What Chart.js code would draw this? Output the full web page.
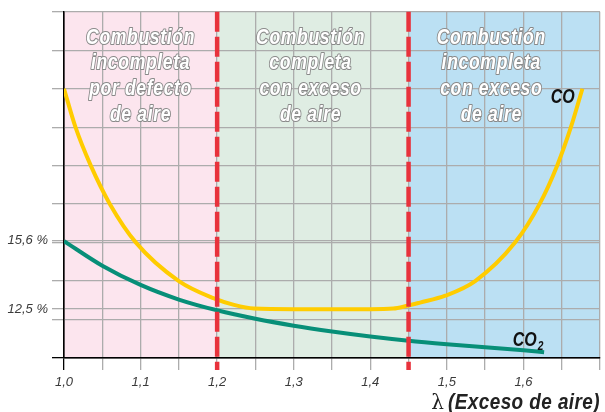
<!DOCTYPE html>
<html>
<head>
<meta charset="utf-8">
<script src="https://cdn.jsdelivr.net/npm/chart.js@4/dist/chart.umd.min.js"></script>
<style>
html, body { margin: 0; padding: 0; background: #fff; }
</style>
</head>
<body>
<canvas id="myChart" width="605" height="412"></canvas>
<script>
// curve values are in grid units (one unit = one horizontal grid step)
var coLambda = [1.0, 1.015, 1.035, 1.06, 1.094, 1.15, 1.196, 1.222, 1.248, 1.3, 1.35, 1.4, 1.43, 1.447, 1.465, 1.498, 1.537, 1.589, 1.621, 1.644, 1.662, 1.677]
var coValue  = [7.0, 6.0, 5.0, 4.0, 3.0, 2.0, 1.55, 1.38, 1.285, 1.27, 1.27, 1.27, 1.285, 1.35, 1.44, 1.62, 2.0, 3.0, 4.0, 5.0, 6.0, 7.0]

var co2Lambda = [1.0, 1.05, 1.1, 1.15, 1.2, 1.25, 1.3, 1.35, 1.4, 1.45, 1.5, 1.55, 1.6, 1.627]
var co2Value  = [3.04, 2.40, 1.90, 1.52, 1.24, 1.02, 0.84, 0.69, 0.56, 0.45, 0.36, 0.28, 0.20, 0.15]

var xTickValues = [1.0, 1.1, 1.2, 1.3, 1.4, 1.5, 1.6]
var xTickLabels = ['1,0', '1,1', '1,2', '1,3', '1,4', '1,5', '1,6']
var yTickValues = [3.06, 1.27]
var yTickLabels = ['15,6 %', '12,5 %']

var zoneEdges = [1.0, 1.2, 1.45, 1.7]
var zoneColors = ['#fce5ee', '#dfede3', '#bbe0f3']
var zoneTextX = [1.1, 1.322, 1.558]
var zoneTexts = [
    ['Combustión', 'incompleta', 'por defecto', 'de aire'],
    ['Combustión', 'completa', 'con exceso', 'de aire'],
    ['Combustión', 'incompleta', 'con exceso', 'de aire']
]
var limitLines = [1.2, 1.45]

var sans = '"Liberation Sans", Arial, sans-serif'

function toPoints(xs, ys) {
    return xs.map(function (x, i) { return { x: x, y: ys[i] } })
}

function findLabel(values, labels, v) {
    for (let i = 0; i < values.length; i++) {
        if (Math.abs(values[i] - v) < 1e-6) return labels[i]
    }
    return ''
}

function gridColor(ctx) {
    if (ctx.tick && ctx.tick.value === ctx.scale.min) return '#000'
    return '#acacac'
}

// condensed text: squeeze horizontally around the anchor
function narrowText(c, t, x, y, sx, align, outline) {
    c.save()
    c.translate(x, y)
    c.scale(sx, 1)
    c.textAlign = align
    if (outline) {
        c.lineJoin = 'round'
        c.strokeStyle = '#8a8a8a'
        c.lineWidth = 2.2
        c.strokeText(t, 0, 0)
    }
    c.fillText(t, 0, 0)
    var w = c.measureText(t).width * sx
    c.restore()
    return w
}

var zonesPlugin = {
    id: 'zones',
    beforeDraw: function (chart) {
        var c = chart.ctx, a = chart.chartArea, x = chart.scales.x
        c.save()
        for (let i = 0; i < zoneColors.length; i++) {
            var x0 = x.getPixelForValue(zoneEdges[i])
            var x1 = x.getPixelForValue(zoneEdges[i + 1])
            c.fillStyle = zoneColors[i]
            c.fillRect(x0, a.top, x1 - x0, a.bottom - a.top)
        }
        c.restore()
    },
    beforeDatasetsDraw: function (chart) {
        var c = chart.ctx, a = chart.chartArea, x = chart.scales.x
        c.save()
        c.font = 'italic bold 22px ' + sans
        c.letterSpacing = '0.8px'
        c.textBaseline = 'alphabetic'
        c.fillStyle = '#ffffff'
        zoneTexts.forEach(function (lines, i) {
            var cx = x.getPixelForValue(zoneTextX[i])
            lines.forEach(function (t, j) {
                narrowText(c, t, cx, a.top + 32 + j * 25.6, 0.8, 'center', true)
            })
        })
        c.restore()
    },
    afterDatasetsDraw: function (chart) {
        var c = chart.ctx, a = chart.chartArea, x = chart.scales.x, y = chart.scales.y
        c.save()
        c.strokeStyle = '#e8323c'
        c.lineWidth = 4.5
        c.setLineDash([20, 5])
        limitLines.forEach(function (v) {
            var px = x.getPixelForValue(v)
            c.beginPath()
            c.moveTo(px, a.top)
            c.lineTo(px, a.bottom + 12)
            c.stroke()
        })
        c.setLineDash([])

        // curve names
        c.fillStyle = '#111'
        c.font = 'italic bold 20px ' + sans
        narrowText(c, 'CO', x.getPixelForValue(1.667), y.getPixelForValue(6.62), 0.8, 'right', false)
        var lx = x.getPixelForValue(1.586), ly = y.getPixelForValue(0.3)
        var w = narrowText(c, 'CO', lx, ly, 0.8, 'left', false)
        c.font = 'italic bold 12px ' + sans
        narrowText(c, '2', lx + w + 1, ly + 4, 0.85, 'left', false)
        c.restore()
    },
    afterDraw: function (chart) {
        var c = chart.ctx, a = chart.chartArea
        c.save()
        c.fillStyle = '#222'
        c.textBaseline = 'alphabetic'
        c.font = 'italic bold 22px ' + sans
        c.letterSpacing = '0.5px'
        var w = narrowText(c, '(Exceso de aire)', a.right, 409, 0.86, 'right', false)
        c.letterSpacing = '0px'
        c.font = '20px "DejaVu Serif", serif'
        c.textAlign = 'right'
        c.fillText('λ', a.right - w - 4, 409)
        c.restore()
    }
}

new Chart('myChart', {
    type: 'line',
    data: {
        datasets: [{
            label: 'CO',
            data: toPoints(coLambda, coValue),
            borderColor: '#ffcc00',
            borderWidth: 4,
            pointRadius: 0,
            fill: false,
            cubicInterpolationMode: 'monotone'
        }, {
            label: 'CO2',
            data: toPoints(co2Lambda, co2Value),
            borderColor: '#078f78',
            borderWidth: 4,
            pointRadius: 0,
            fill: false,
            cubicInterpolationMode: 'monotone'
        }]
    },
    options: {
        responsive: false,
        animation: false,
        layout: { padding: { top: 11, right: 3, left: 0, bottom: 0 } },
        plugins: { legend: { display: false }, tooltip: { enabled: false } },
        scales: {
            x: {
                type: 'linear',
                min: 1.0,
                max: 1.7,
                afterBuildTicks: function (scale) {
                    var t = []
                    for (let i = 0; i <= 14; i++) t.push({ value: Math.round((1.0 + i * 0.05) * 100) / 100 })
                    scale.ticks = t
                },
                afterFit: function (scale) { scale.height = 54 },
                ticks: {
                    autoSkip: false,
                    maxRotation: 0,
                    padding: 5,
                    color: '#3a3a3a',
                    font: { family: sans, size: 13, style: 'italic' },
                    callback: function (v) { return findLabel(xTickValues, xTickLabels, v) }
                },
                grid: { color: gridColor, tickColor: gridColor, lineWidth: 1.3, tickLength: 12 },
                border: { color: '#000', width: 1.5 }
            },
            y: {
                type: 'linear',
                min: 0,
                max: 9,
                afterBuildTicks: function (scale) {
                    var t = []
                    for (let i = 0; i <= 9; i++) t.push({ value: i })
                    yTickValues.forEach(function (v) { t.push({ value: v }) })
                    t.sort(function (p, q) { return p.value - q.value })
                    scale.ticks = t
                },
                afterFit: function (scale) { scale.width = 64 },
                ticks: {
                    autoSkip: false,
                    padding: 4,
                    color: '#3a3a3a',
                    font: { family: sans, size: 13, style: 'italic' },
                    callback: function (v) { return findLabel(yTickValues, yTickLabels, v) }
                },
                grid: { color: gridColor, tickColor: gridColor, lineWidth: 1.3, tickLength: 12 },
                border: { color: '#000', width: 1.5 }
            }
        }
    },
    plugins: [zonesPlugin]
})
</script>
</body>
</html>
